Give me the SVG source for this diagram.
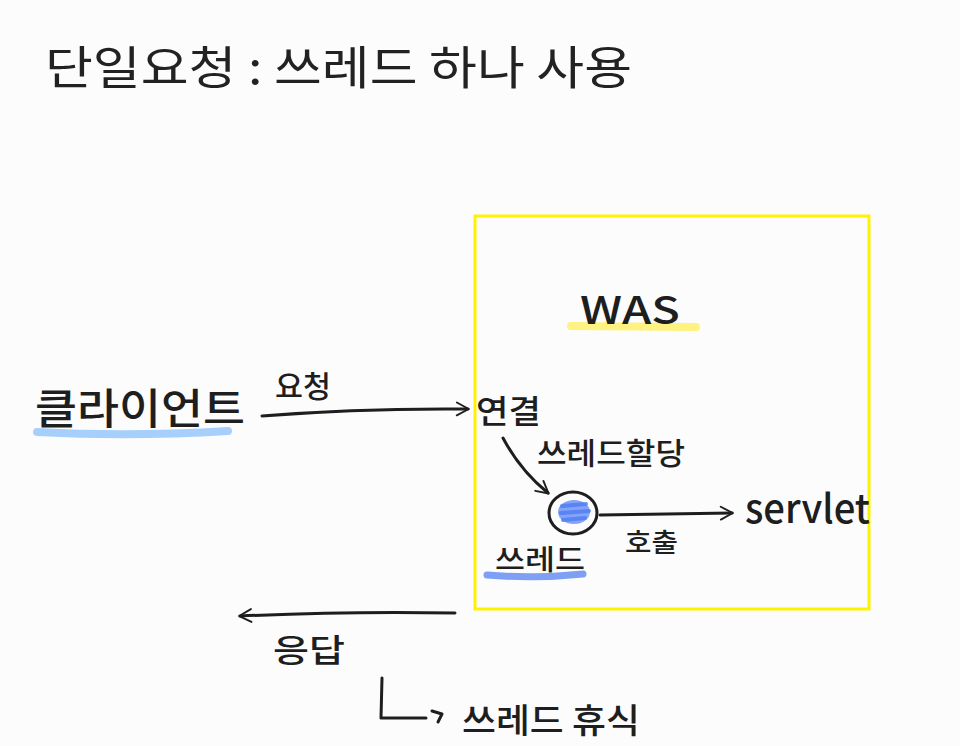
<svg xmlns="http://www.w3.org/2000/svg" width="960" height="746" viewBox="0 0 960 746">
<defs>
<style>
.title{font-family:"Noto Sans CJK KR","Noto Sans",sans-serif;font-size:46px;fill:#222;}
.hw{font-family:"Noto Sans CJK KR","Noto Sans",sans-serif;fill:#1e1e1e;font-weight:500;}
.ln{fill:none;stroke:#1e1e1e;stroke-width:3;stroke-linecap:round;stroke-linejoin:round;}
</style>
<marker id="ah" viewBox="0 0 20 20" refX="16" refY="10" markerWidth="16" markerHeight="16" markerUnits="userSpaceOnUse" orient="auto">
<path d="M2,2 L17,10 L2,18" fill="none" stroke="#1e1e1e" stroke-width="2.4" stroke-linecap="round" stroke-linejoin="round"/>
</marker>
</defs>
<rect width="960" height="746" fill="#fcfcfc"/>
<text class="title" x="45" y="84" textLength="587" lengthAdjust="spacingAndGlyphs">단일요청 : 쓰레드 하나 사용</text>

<g id="was">
<rect x="475" y="216" width="394" height="393" fill="none" stroke="#fff200" stroke-width="3"/>
<line x1="571" y1="326" x2="696" y2="327" stroke="#fff280" stroke-width="8" stroke-linecap="round"/>
<text class="hw" x="580" y="324" font-size="38" textLength="100" lengthAdjust="spacingAndGlyphs">WAS</text>
</g>

<g id="client">
<path d="M37,432 Q130,437 228,431" fill="none" stroke="#a6d0fb" stroke-width="8" stroke-linecap="round"/>
<text class="hw" x="35" y="424" font-size="42" textLength="210" lengthAdjust="spacingAndGlyphs">클라이언트</text>
</g>

<g id="conn">
<text class="hw" x="476" y="423" font-size="32" textLength="65" lengthAdjust="spacingAndGlyphs">연결</text>
</g>

<g id="thread">
<ellipse cx="574" cy="512" rx="16" ry="12" fill="#6f94f7" opacity="0.85"/>
<path d="M562,506 L586,504 M561,513 L589,511 M563,520 L585,518" fill="none" stroke="#4f7cf3" stroke-width="4" stroke-linecap="round" opacity="0.8"/>
<ellipse cx="573" cy="513" rx="24" ry="21" class="ln"/>
<path d="M487,575 Q535,579 583,574" fill="none" stroke="#7da0f5" stroke-width="7" stroke-linecap="round"/>
<text class="hw" x="495" y="570" font-size="28" textLength="90" lengthAdjust="spacingAndGlyphs">쓰레드</text>
</g>

<g id="servlet">
<text class="hw" x="745" y="523" font-size="40" textLength="125" lengthAdjust="spacingAndGlyphs">servlet</text>
</g>

<g id="rest">
<text class="hw" x="462" y="733" font-size="34" textLength="178" lengthAdjust="spacingAndGlyphs">쓰레드 휴식</text>
</g>

<g id="connectors">
<path class="ln" d="M262,416 Q360,408 468,409" marker-end="url(#ah)"/>
<text class="hw" x="275" y="397" font-size="30" textLength="56" lengthAdjust="spacingAndGlyphs">요청</text>
<path class="ln" d="M503,438 Q520,470 548,493" marker-end="url(#ah)"/>
<text class="hw" x="537" y="464" font-size="30" textLength="148" lengthAdjust="spacingAndGlyphs">쓰레드할당</text>
<path class="ln" d="M600,515 L732,513" marker-end="url(#ah)"/>
<text class="hw" x="625" y="552" font-size="26" textLength="53" lengthAdjust="spacingAndGlyphs">호출</text>
<path class="ln" d="M455,613 Q350,611 240,616" marker-end="url(#ah)"/>
<text class="hw" x="273" y="662" font-size="32" textLength="72" lengthAdjust="spacingAndGlyphs">응답</text>
<path class="ln" d="M382,678 L381,718 L426,718"/>
<path class="ln" d="M432,711 L442,714 L438,722"/>
</g>
</svg>
